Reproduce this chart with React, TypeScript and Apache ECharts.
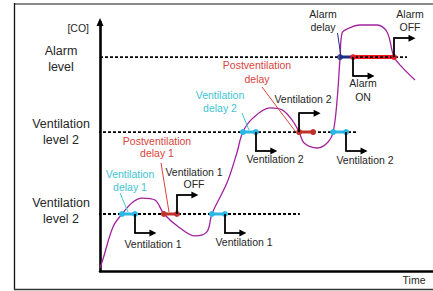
import React, { useEffect, useRef } from 'react';
import * as echarts from 'echarts';

// CO concentration curve (time units 0..100, CO units 0..100)
const curveTime = [0, 0.9, 3.9, 6.6, 9.9, 12.6, 16.5, 19.2, 24.0, 28.5, 32.1, 33.6, 38.1, 41.1, 42.9, 45.9, 51.1, 54.7, 57.7, 59.8, 61.3, 65.2, 68.2, 70.0, 71.2, 72.1, 72.7, 74.2, 78.1, 83.2, 86.2, 88.3, 90.7, 94.6];
const curveCO = [1.2, 4.8, 17.7, 22.9, 27.7, 29.3, 28.5, 22.9, 17.3, 14.1, 15.7, 22.9, 35.3, 47.4, 55.8, 61.4, 65.5, 64.7, 60.6, 55.8, 51.4, 49.4, 51.4, 55.8, 68.7, 85.9, 95.6, 97.2, 98.8, 98.8, 96.0, 85.9, 81.9, 76.7];

// threshold levels: lower ventilation, upper ventilation, alarm
const levelCO = [22.9, 55.8, 85.9];
const levelFrom = [-2.1, -2.1, 0];
const levelTo = [60.0, 77.2, 92.2];

// ventilation delays (cyan)
const ventDelayStart = [6.6, 33.6, 42.9, 70.0];
const ventDelayEnd = [10.5, 37.5, 46.8, 73.9];
const ventDelayLevel = [0, 0, 1, 1];

// postventilation delays (red)
const postDelayStart = [19.2, 59.8];
const postDelayEnd = [23.1, 64.0];
const postDelayLevel = [0, 1];

// alarm delay (navy) and alarm on span (red)
const alarmDelay = [72.1, 76.0];
const alarmOnSpan = [76.0, 88.3];

// step arrows: time, level index, direction (+1 up / -1 down)
const arrowTime = [10.5, 23.1, 37.5, 46.8, 59.8, 73.9, 76.0, 88.3];
const arrowLevel = [0, 0, 0, 1, 1, 1, 2, 2];
const arrowDir = [-1, 1, -1, -1, 1, -1, -1, 1];

const FONT = '"Liberation Sans", Arial, Helvetica, sans-serif';
const CYAN = '#2bb7e6';
const CYAN_TXT = '#3ec4d2';
const RED = '#c2302c';
const RED_TXT = '#d8433d';
const ALARM_RED = '#f2141e';
const NAVY = '#1e2c88';
const PURPLE = '#a2229e';
const TXT = '#262626';

function label(text: string, x: number, y: number, color: string, size: number, lh: number, align = 'center') {
  return {
    type: 'text',
    x,
    y,
    z: 100,
    silent: true,
    style: {
      text,
      fill: color,
      fontSize: size,
      fontFamily: FONT,
      align,
      verticalAlign: 'middle',
      lineHeight: lh,
    },
  };
}

function gline(x1: number, y1: number, x2: number, y2: number, color: string, width: number) {
  return {
    type: 'line',
    z: 90,
    silent: true,
    shape: { x1, y1, x2, y2 },
    style: { stroke: color, lineWidth: width },
  };
}

export default function App() {
  const ref = useRef<HTMLDivElement>(null);

  useEffect(() => {
    if (!ref.current) return;
    const chart = echarts.init(ref.current, null, { renderer: 'svg' });

    const series: any[] = [];

    // alarm ON red bar (below dashed line)
    series.push({
      type: 'line',
      data: [[alarmOnSpan[0], levelCO[2]], [alarmOnSpan[1], levelCO[2]]],
      symbol: 'none',
      lineStyle: { color: ALARM_RED, width: 4 },
      z: 2,
      silent: true,
    });

    // dashed level lines
    levelCO.forEach((lv, i) => {
      series.push({
        type: 'line',
        data: [[levelFrom[i], lv], [levelTo[i], lv]],
        symbol: 'none',
        clip: false,
        lineStyle: { color: '#000', width: 1.8, type: [3, 2] },
        z: 3,
        silent: true,
      });
    });

    // CO curve
    series.push({
      type: 'line',
      data: curveTime.map((t, i) => [t, curveCO[i]]),
      smooth: 0.35,
      symbol: 'none',
      lineStyle: { color: PURPLE, width: 1.3 },
      z: 4,
      silent: true,
    });

    // ventilation delays
    ventDelayStart.forEach((s, i) => {
      const lv = levelCO[ventDelayLevel[i]];
      series.push({
        type: 'line',
        data: [[s, lv], [ventDelayEnd[i], lv]],
        symbol: 'circle',
        symbolSize: 6,
        showSymbol: true,
        itemStyle: { color: CYAN },
        lineStyle: { color: CYAN, width: 3 },
        z: 6,
        silent: true,
      });
    });

    // postventilation delays
    postDelayStart.forEach((s, i) => {
      const lv = levelCO[postDelayLevel[i]];
      series.push({
        type: 'line',
        data: [[s, lv], [postDelayEnd[i], lv]],
        symbol: 'circle',
        symbolSize: 6,
        showSymbol: true,
        itemStyle: { color: RED },
        lineStyle: { color: RED, width: 3 },
        z: 6,
        silent: true,
      });
    });

    // alarm delay
    series.push({
      type: 'line',
      data: [[alarmDelay[0], levelCO[2]], [alarmDelay[1], levelCO[2]]],
      symbol: 'none',
      lineStyle: { color: NAVY, width: 3 },
      z: 6,
      silent: true,
    });
    series.push({
      type: 'scatter',
      data: [[alarmDelay[0], levelCO[2]]],
      symbolSize: 6,
      itemStyle: { color: NAVY },
      z: 7,
      silent: true,
    });
    series.push({
      type: 'scatter',
      data: [[alarmOnSpan[0], levelCO[2]], [alarmOnSpan[1], levelCO[2]]],
      symbolSize: 6,
      itemStyle: { color: ALARM_RED },
      z: 7,
      silent: true,
    });

    // step arrows
    const DROP = 7.6;
    const RUN = 5.4;
    series.push({
      type: 'lines',
      coordinateSystem: 'cartesian2d',
      data: arrowTime.map((t, i) => {
        const lv = levelCO[arrowLevel[i]];
        return { coords: [[t, lv], [t, lv + arrowDir[i] * DROP]] };
      }),
      symbol: ['none', 'none'],
      lineStyle: { color: '#000', width: 1.8, opacity: 1, curveness: 0 },
      z: 8,
      silent: true,
    });
    series.push({
      type: 'lines',
      coordinateSystem: 'cartesian2d',
      data: arrowTime.map((t, i) => {
        const lv = levelCO[arrowLevel[i]] + arrowDir[i] * DROP;
        return { coords: [[t - 0.25, lv], [t + RUN, lv]] };
      }),
      symbol: ['none', 'triangle'],
      symbolSize: 7,
      lineStyle: { color: '#000', width: 1.8, opacity: 1, curveness: 0 },
      z: 8,
      silent: true,
    });

    const graphic: any[] = [
      // frame
      gline(14, 4, 433, 4, '#8a8a8a', 2),
      gline(14.5, 3, 14.5, 290, '#111', 1.3),
      gline(14, 289.5, 433, 289.5, '#333', 1.5),
      // leaders
      gline(120, 193, 128, 212, CYAN_TXT, 1),
      gline(161, 163, 169, 212, RED_TXT, 1),
      gline(242, 113, 249, 130, CYAN_TXT, 1),
      gline(262, 87, 295, 131, RED_TXT, 1),
      gline(337.5, 33, 341, 57, NAVY, 1),
      // left labels
      label('[CO]', 89, 28, TXT, 10.5, 13, 'right'),
      label('Alarm\nlevel', 61, 59, TXT, 12.5, 16),
      label('Ventilation\nlevel 2', 61, 132, TXT, 12.5, 16),
      label('Ventilation\nlevel 2', 61, 211, TXT, 12.5, 16),
      // annotations
      label('Ventilation\ndelay 1', 130, 180.5, CYAN_TXT, 10.5, 13),
      label('Postventilation\ndelay 1', 157, 147, RED_TXT, 10.5, 12.5),
      label('Ventilation 1\nOFF', 194, 178, TXT, 10.5, 12.5),
      label('Ventilation 1', 153, 244, TXT, 10.5, 13),
      label('Ventilation 1', 244, 242, TXT, 10.5, 13),
      label('Ventilation\ndelay 2', 220, 101, CYAN_TXT, 10.5, 13),
      label('Postventilation\ndelay', 257, 72, RED_TXT, 10.5, 14),
      label('Ventilation 2', 303, 99, TXT, 10.5, 13),
      label('Ventilation 2', 275, 159, TXT, 10.5, 13),
      label('Ventilation 2', 365, 160, TXT, 10.5, 13),
      label('Alarm\ndelay', 323, 20.5, TXT, 10.5, 13),
      label('Alarm\nON', 363, 90, TXT, 10.5, 14),
      label('Alarm\nOFF', 410, 20.5, TXT, 10.5, 13),
      label('Time', 414, 280, TXT, 10.5, 13),
    ];

    chart.setOption({
      animation: false,
      backgroundColor: '#ffffff',
      grid: { left: 100, right: 0, top: 22, bottom: 20, containLabel: false },
      xAxis: {
        type: 'value',
        min: 0,
        max: 100,
        axisLine: { show: true, onZero: false, lineStyle: { color: '#000', width: 2.6 } },
        axisTick: { show: false },
        axisLabel: { show: false },
        splitLine: { show: false },
      },
      yAxis: {
        type: 'value',
        min: 0,
        max: 100,
        axisLine: {
          show: true,
          onZero: false,
          symbol: ['none', 'triangle'],
          symbolSize: [7, 8],
          lineStyle: { color: '#000', width: 2.6 },
        },
        axisTick: { show: false },
        axisLabel: { show: false },
        splitLine: { show: false },
      },
      series,
      graphic,
    });

    return () => chart.dispose();
  }, []);

  return (
    <div
      ref={ref}
      style={{ position: 'fixed', left: 0, top: 0, width: 433, height: 291, background: '#fff' }}
    />
  );
}
